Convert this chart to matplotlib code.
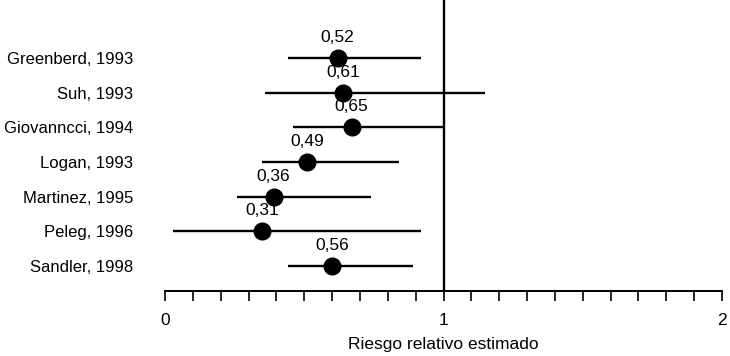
import numpy as np
import matplotlib.pyplot as plt

plt.rcParams['font.family'] = ['Liberation Sans', 'DejaVu Sans']

# Studies and estimates (positions, labels as printed)
studies = ["Greenberd, 1993", "Suh, 1993", "Giovanncci, 1994", "Logan, 1993",
           "Martinez, 1995", "Peleg, 1996", "Sandler, 1998"]
rr_labels = ["0,52", "0,61", "0,65", "0,49", "0,36", "0,31", "0,56"]
rr_point = [0.62, 0.64, 0.67, 0.51, 0.39, 0.35, 0.60]
ci_low = [0.44, 0.36, 0.46, 0.35, 0.26, 0.03, 0.44]
ci_high = [0.92, 1.15, 1.00, 0.84, 0.74, 0.92, 0.89]

fig = plt.figure(figsize=(7.3, 3.56), dpi=100)
ax = fig.add_axes([165 / 730, 65 / 356, 557 / 730, 291 / 356])

y = np.arange(len(studies))
for i in range(len(studies)):
    ax.plot([ci_low[i], ci_high[i]], [y[i], y[i]], color='black', lw=1.7, solid_capstyle='butt')
    ax.plot(rr_point[i], y[i], 'o', color='black', markersize=12)
    ax.text(rr_point[i], y[i] - 0.38, rr_labels[i], ha='center', va='bottom', fontsize=12.5)

ax.axvline(1, color='black', lw=1.7)

ax.set_xlim(0, 2)
ax.set_ylim(6.72, -1.673)
ax.set_yticks(y)
ax.set_yticklabels(studies, fontsize=12)
ax.tick_params(axis='y', length=0, pad=23)
ax.set_xticks([0, 1, 2])
ax.set_xticklabels(["0", "1", "2"], fontsize=12.5)
ax.set_xticks(np.arange(0, 2.01, 0.1), minor=True)
ax.tick_params(axis='x', which='both', direction='out', length=7, width=1.2, pad=9)
for s in ['top', 'left', 'right']:
    ax.spines[s].set_visible(False)
ax.spines['bottom'].set_linewidth(1.4)
ax.set_xlabel("Riesgo relativo estimado", fontsize=12.5, labelpad=6)

fig.savefig("out.png", dpi=100)
